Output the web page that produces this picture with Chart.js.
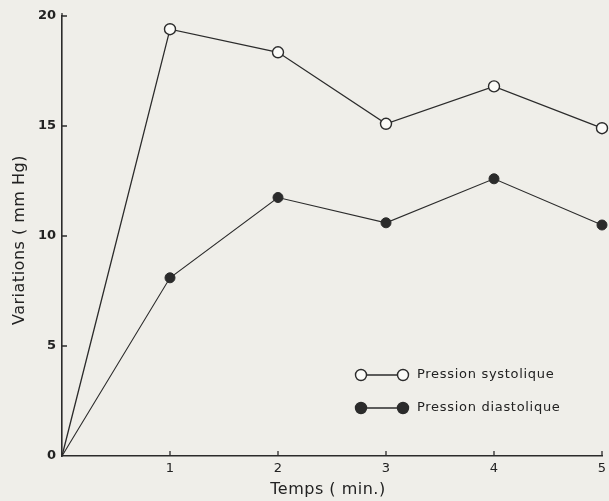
<!DOCTYPE html>
<html>
<head>
<meta charset="utf-8">
<script src="https://cdn.jsdelivr.net/npm/chart.js@4/dist/chart.umd.min.js"></script>
<style>
    html, body { margin: 0; padding: 0; background: #efeee9; }
    #wrap { width: 609px; height: 501px; }
</style>
</head>
<body>
<div id="wrap"><canvas id="chart" width="609" height="501"></canvas></div>
<script>
const times = [0, 1, 2, 3, 4, 5];
const systolique = [0, 19.4, 18.35, 15.1, 16.8, 14.9];
const diastolique = [0, 8.1, 11.75, 10.6, 12.6, 10.5];
const xTicks = [1, 2, 3, 4, 5];
const yTicks = [0, 5, 10, 15, 20];
const legendLabels = ['Pression systolique', 'Pression diastolique'];
const xTitle = 'Temps ( min.)';
const yTitle = 'Variations ( mm Hg)';

const INK = '#2b2b2b';
const TEXT = '#222';
const BG = '#efeee9';

const toPoints = (values) => values.map((v, i) => ({ x: times[i], y: v }));

// paper background
const paperPlugin = {
    id: 'paper',
    beforeDraw(chart) {
        const { ctx, width, height } = chart;
        ctx.save();
        ctx.fillStyle = BG;
        ctx.fillRect(0, 0, width, height);
        ctx.restore();
    }
};

// short tick marks pointing into the plot + spaced axis titles
const axisDecorPlugin = {
    id: 'axisDecor',
    afterDatasetsDraw(chart) {
        const { ctx, scales: { x, y } } = chart;
        ctx.save();
        ctx.strokeStyle = INK;
        ctx.lineWidth = 1.3;
        ctx.beginPath();
        xTicks.forEach((t) => {
            const px = x.getPixelForValue(t);
            ctx.moveTo(px, y.bottom);
            ctx.lineTo(px, y.bottom - 5);
        });
        yTicks.slice(1).forEach((t) => {
            const py = y.getPixelForValue(t);
            ctx.moveTo(x.left, py);
            ctx.lineTo(x.left + 5, py);
        });
        ctx.moveTo(x.left, y.top);
        ctx.lineTo(x.left, y.top - 3);
        ctx.stroke();

        ctx.fillStyle = TEXT;
        ctx.font = '16px "DejaVu Sans"';
        ctx.letterSpacing = '0.5px';
        ctx.textAlign = 'center';
        ctx.textBaseline = 'middle';
        ctx.fillText(xTitle, (x.left + x.right) / 2 - 4, 490);

        ctx.translate(20, (y.top + y.bottom) / 2 + 4);
        ctx.rotate(-Math.PI / 2);
        ctx.fillText(yTitle, 0, 0);
        ctx.restore();
    }
};

// legend drawn inside the plot, like the original
const innerLegendPlugin = {
    id: 'innerLegend',
    afterDraw(chart) {
        const { ctx } = chart;
        const rows = [375, 408];
        ctx.save();
        ctx.font = '13px "DejaVu Sans"';
        ctx.letterSpacing = '0.7px';
        ctx.textBaseline = 'middle';
        chart.data.datasets.forEach((ds, i) => {
            const yy = rows[i];
            ctx.strokeStyle = INK;
            ctx.lineWidth = 1.3;
            ctx.beginPath();
            ctx.moveTo(361, yy);
            ctx.lineTo(403, yy);
            ctx.stroke();
            [361, 403].forEach((cx) => {
                ctx.beginPath();
                ctx.arc(cx, yy, 5.5, 0, Math.PI * 2);
                ctx.fillStyle = ds.pointBackgroundColor;
                ctx.fill();
                ctx.lineWidth = 1.4;
                ctx.stroke();
            });
            ctx.fillStyle = TEXT;
            ctx.fillText(legendLabels[i], 417, yy);
        });
        ctx.restore();
    }
};

new Chart(document.getElementById('chart'), {
    type: 'line',
    data: {
        datasets: [
            {
                label: legendLabels[0],
                data: toPoints(systolique),
                borderColor: INK,
                borderWidth: 1.3,
                pointRadius: [0, 5.5, 5.5, 5.5, 5.5, 5.5],
                pointBackgroundColor: '#fbfbf8',
                pointBorderColor: INK,
                pointBorderWidth: 1.4,
                tension: 0,
                clip: false
            },
            {
                label: legendLabels[1],
                data: toPoints(diastolique),
                borderColor: INK,
                borderWidth: 1.1,
                pointRadius: [0, 5, 5, 5, 5, 5],
                pointBackgroundColor: INK,
                pointBorderColor: INK,
                pointBorderWidth: 1,
                tension: 0,
                clip: false
            }
        ]
    },
    options: {
        responsive: false,
        animation: false,
        layout: { padding: { left: 0, right: 7, top: 16, bottom: 0 } },
        plugins: {
            legend: { display: false },
            tooltip: { enabled: false }
        },
        scales: {
            x: {
                type: 'linear',
                min: 0,
                max: 5,
                afterFit(scale) {
                    scale.height = 45;
                    scale.paddingLeft = 0;
                    scale.paddingRight = 0;
                },
                afterBuildTicks(scale) { scale.ticks = xTicks.map((v) => ({ value: v })); },
                grid: { display: false, drawTicks: false },
                border: { display: true, color: INK, width: 1.6 },
                ticks: {
                    color: TEXT,
                    padding: 5,
                    font: { family: 'DejaVu Sans', size: 13 }
                }
            },
            y: {
                type: 'linear',
                min: 0,
                max: 20,
                afterFit(scale) { scale.width = 62; },
                afterBuildTicks(scale) { scale.ticks = yTicks.map((v) => ({ value: v })); },
                grid: { display: false, drawTicks: false },
                border: { display: true, color: INK, width: 1.6 },
                ticks: {
                    color: TEXT,
                    padding: 6,
                    font: { family: 'DejaVu Sans', size: 13, weight: 'bold' }
                }
            }
        }
    },
    plugins: [paperPlugin, axisDecorPlugin, innerLegendPlugin]
});
</script>
</body>
</html>
